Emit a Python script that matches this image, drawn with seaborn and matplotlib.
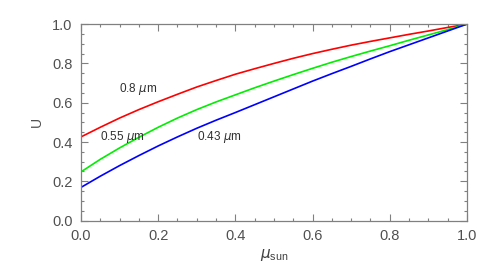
import numpy as np
import pandas as pd
import matplotlib
matplotlib.use("Agg")
import matplotlib.pyplot as plt
import seaborn as sns
from matplotlib.ticker import MultipleLocator

mu_sun = [0.0, 0.05, 0.1, 0.15, 0.2, 0.25, 0.3, 0.35, 0.4, 0.45, 0.5,
          0.55, 0.6, 0.65, 0.7, 0.75, 0.8, 0.85, 0.9, 0.95, 1.0]
u_080 = [0.426, 0.475, 0.522, 0.565, 0.605, 0.643, 0.68, 0.713, 0.745, 0.773, 0.80,
         0.826, 0.85, 0.872, 0.893, 0.912, 0.93, 0.948, 0.965, 0.983, 1.0]
u_055 = [0.248, 0.312, 0.37, 0.424, 0.475, 0.522, 0.565, 0.604, 0.64, 0.676, 0.71,
         0.743, 0.775, 0.806, 0.835, 0.863, 0.89, 0.918, 0.945, 0.972, 1.0]
u_043 = [0.169, 0.226, 0.28, 0.331, 0.38, 0.426, 0.47, 0.511, 0.55, 0.59, 0.63,
         0.67, 0.71, 0.748, 0.785, 0.823, 0.86, 0.895, 0.93, 0.965, 1.0]
series_names = ["0.8 $\\mu$m", "0.55 $\\mu$m", "0.43 $\\mu$m"]
colors = ["#ff0000", "#00ee00", "#0000ff"]

n = len(mu_sun)
df = pd.DataFrame({
    "mu": mu_sun * 3,
    "U": u_080 + u_055 + u_043,
    "band": [series_names[0]] * n + [series_names[1]] * n + [series_names[2]] * n,
})

sns.set_style("ticks")
plt.rcParams["font.family"] = ["Liberation Sans", "DejaVu Sans"]
plt.rcParams["mathtext.fontset"] = "custom"
plt.rcParams["mathtext.it"] = "DejaVu Sans:italic"
plt.rcParams["mathtext.rm"] = "Liberation Sans"

fig = plt.figure(figsize=(4.91, 2.71), dpi=100)
ax = fig.add_axes([0.165, 0.186, 0.786, 0.725])
sns.lineplot(data=df, x="mu", y="U", hue="band", palette=colors, ax=ax,
             legend=False, linewidth=1.2)

ax.set_xlim(0, 1)
ax.set_ylim(0, 1)
ax.xaxis.set_major_locator(MultipleLocator(0.2))
ax.xaxis.set_minor_locator(MultipleLocator(0.05))
ax.yaxis.set_major_locator(MultipleLocator(0.2))
ax.yaxis.set_minor_locator(MultipleLocator(0.05))
ax.set_xticklabels([f"{v:.1f}" for v in ax.get_xticks()])
ax.set_yticklabels([f"{v:.1f}" for v in ax.get_yticks()])
ax.tick_params(which="both", direction="in", top=True, right=True,
               colors="#808080", labelcolor="#505050", labelsize=10.5, width=0.8)
ax.tick_params(which="major", length=5, pad=6)
ax.tick_params(which="minor", length=2.5)
for s in ax.spines.values():
    s.set_color("#808080")
    s.set_linewidth(0.9)

ax.set_xlabel("$\\mu_{\\rm sun}$", color="#404040", fontsize=11, labelpad=3)
ax.set_ylabel("U", color="#505050", fontsize=10, labelpad=6)

ax.text(0.099, 0.669, series_names[0], fontsize=8.5, color="#303030", va="center", ha="left")
ax.text(0.049, 0.423, series_names[1], fontsize=8.5, color="#303030", va="center", ha="left")
ax.text(0.30, 0.423, series_names[2], fontsize=8.5, color="#303030", va="center", ha="left")

fig.savefig("out.png", dpi=100)
